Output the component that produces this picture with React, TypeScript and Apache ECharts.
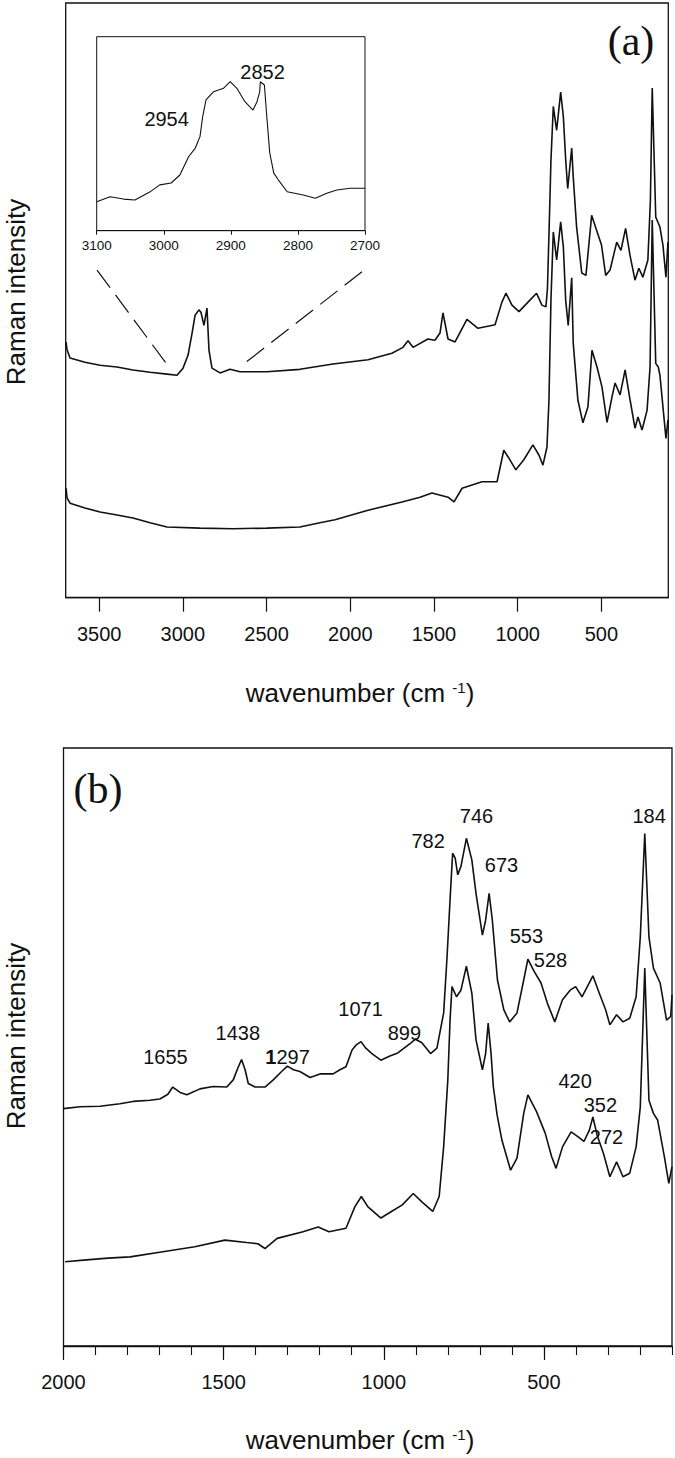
import React, { useEffect, useRef } from "react";
import * as echarts from "echarts";

// ---- Panel (a): full range spectra ----
const waveA1 = [3698,3692,3674,3585,3495,3394,3298,3196,3095,3035,2999,2969,2945,2927,2904,2892,2874,2856,2844,2826,2778,2718,2659,2498,2301,2103,1894,1751,1685,1655,1625,1536,1494,1464,1446,1416,1374,1303,1237,1135,1094,1070,1034,992,938,887,855,831,822,812,801,787,767,743,727,713,701,677,668,648,617,592,558,532,499,474,448,408,383,355,329,299,276,252,222,207,196,175,160,150,132,114,102];
const intA1 = [43.0,41.7,40.3,39.6,39.1,38.8,38.3,37.9,37.6,37.4,38.6,40.8,44.5,47.5,48.4,48.0,45.8,48.7,41.6,38.6,37.8,38.4,38.0,38.0,38.4,39.3,40.0,41.1,42.1,43.2,42.1,43.5,43.3,44.5,47.9,43.5,43.0,46.8,45.3,45.9,49.7,51.2,49.2,48.1,49.7,51.2,49.2,48.9,52.0,62.0,73.6,82.6,78.6,85.0,80.9,73.6,68.8,75.6,70.8,62.4,54.6,54.2,64.3,62.1,59.3,54.2,55.1,59.8,58.4,62.1,57.6,53.4,55.4,53.9,56.8,66.8,85.7,64.0,63.0,62.3,59.3,53.9,59.8];

const waveA2 = [3698,3692,3674,3585,3495,3394,3298,3196,3095,2898,2700,2498,2301,2181,2091,1894,1691,1583,1512,1416,1380,1332,1213,1123,1083,1053,1011,963,909,873,849,825,813,801,787,767,743,727,713,698,677,668,640,610,580,556,526,496,466,436,418,388,358,328,299,281,257,227,209,196,175,160,150,114,102];
const intA2 = [18.4,16.8,15.9,15.1,14.4,13.9,13.4,12.6,11.9,11.7,11.6,11.7,11.9,12.6,13.1,14.7,16.1,16.9,17.6,16.9,16.1,18.4,19.5,19.5,24.8,23.5,21.5,23.2,25.7,24.0,22.3,25.3,33.2,50.1,61.5,56.8,63.2,59.0,50.0,45.8,53.8,42.8,33.2,29.4,32.1,41.6,38.8,35.4,29.5,33.8,36.1,34.1,38.3,33.2,28.5,30.4,28.2,31.5,38.8,63.5,39.4,38.8,37.4,26.8,29.9];

// ---- Inset: C-H stretching region ----
const waveInset = [3100,3080,3060,3043,3021,3006,2989,2976,2963,2953,2946,2942,2937,2926,2911,2901,2891,2879,2867,2861,2857,2856,2850,2846,2842,2836,2829,2816,2792,2774,2757,2742,2722,2700];
const intInset = [14.9,17.5,16.3,15.8,19.9,23.6,24.6,28.7,38.1,42.6,48.5,58.8,67.4,71.6,73.4,76.8,73.4,66.5,62.2,66.5,71.6,76.8,75.1,57.1,40.1,29.7,26.1,20.1,18.4,16.7,19.3,21.0,21.9,21.9];
const insetLabels = [
  { name: "2954", pos: [2995, 57.1] },
  { name: "2852", pos: [2852, 81.8] },
];
// zoom guide lines (from inset corners down to the main trace)
const zoomLeft = [[3513, 55.1], [3089, 39.0]];
const zoomRight = [[1930, 54.8], [2623, 39.6]];

// ---- Panel (b): 2000-100 cm-1 ----
const waveB1 = [2000,1948,1886,1824,1783,1730,1699,1674,1659,1636,1615,1574,1533,1490,1470,1454,1444,1433,1423,1402,1371,1345,1319,1301,1282,1262,1230,1199,1158,1137,1118,1099,1087,1071,1056,1037,1009,981,956,915,901,881,854,834,813,803,793,785,777,769,759,742,725,712,692,682,671,661,645,625,607,584,563,550,530,509,489,466,442,418,401,381,347,327,307,294,273,253,232,212,199,185,172,158,137,117,104,100];
const intB1 = [39.7,40.0,40.1,40.5,40.9,41.1,41.3,42.1,43.3,42.4,42.0,43.0,43.4,43.3,44.5,46.7,47.9,46.2,43.9,43.3,43.3,44.5,45.9,46.8,46.2,45.9,44.9,45.5,45.5,46.2,46.7,49.5,50.3,50.9,49.8,48.9,47.8,48.5,49.0,50.7,51.3,50.7,48.9,49.8,55.7,64.5,74.6,82.4,81.6,78.8,80.2,84.9,81.3,75.7,68.7,71.2,75.7,71.2,61.2,56.2,54.2,55.7,61.2,64.7,62.6,60.7,57.3,54.2,57.9,59.5,60.1,58.4,61.9,59.0,56.2,53.7,55.4,54.2,54.8,58.4,68.4,85.7,68.4,63.2,60.7,54.5,55.1,58.7];

const waveB2 = [1995,1928,1861,1792,1685,1590,1496,1428,1393,1371,1333,1252,1205,1171,1118,1090,1070,1050,1009,976,942,908,881,847,827,813,800,793,787,773,759,742,725,712,692,682,674,665,658,646,631,604,584,563,550,523,496,476,462,442,415,394,375,358,347,334,314,294,273,253,232,212,199,185,172,158,145,124,110,100];
const intB2 = [14.1,14.4,14.7,14.9,15.8,16.6,17.7,17.3,17.1,16.3,18.0,19.1,19.9,19.1,19.7,23.3,25.0,23.3,21.4,22.5,23.6,25.5,24.1,22.5,25.0,33.3,44.5,54.5,60.1,58.4,59.5,63.5,59.0,51.2,46.2,48.9,54.0,48.9,43.4,38.6,34.4,29.4,31.4,38.9,42.0,39.2,35.6,31.7,29.7,33.3,35.8,35.0,34.2,36.1,38.3,35.3,32.2,28.3,30.8,28.3,28.9,33.3,40.0,63.2,41.1,38.9,37.8,31.7,27.2,30.0];

const peakLabelsB = [
  { name: "746", pos: [709, 88.5] },
  { name: "184", pos: [170, 88.5] },
  { name: "782", pos: [860, 84.3] },
  { name: "673", pos: [631, 80.4] },
  { name: "553", pos: [553, 68.4] },
  { name: "528", pos: [478, 64.4] },
  { name: "1071", pos: [1071, 56.2] },
  { name: "1438", pos: [1454, 52.3] },
  { name: "899", pos: [934, 52.3] },
  { name: "1655", pos: [1680, 48.2] },
  { name: "1297", pos: [1299, 48.2] },
  { name: "420", pos: [401, 44.3] },
  { name: "352", pos: [322, 40.3] },
  { name: "272", pos: [303, 34.8] },
];

const ticksA = [500, 1000, 1500, 2000, 2500, 3000, 3500];
const ticksBMajor = [500, 1000, 1500, 2000];

const zip = (w: number[], v: number[]) => w.map((x, i) => [x, v[i]]);

const FONT = "'Liberation Sans', Arial, Helvetica, sans-serif";
const SERIF = "'Liberation Serif', 'Times New Roman', serif";
const INK = "#111";
const plain = (v: number) => String(v);

export default function App() {
  const ref = useRef<HTMLDivElement>(null);
  useEffect(() => {
    document.body.style.margin = "0";
    const chart = echarts.init(ref.current!, null, { renderer: "svg" });
    const hiddenY = (gridIndex: number) => ({
      gridIndex, type: "value", min: 0, max: 100,
      axisLine: { show: false }, axisTick: { show: false }, axisLabel: { show: false }, splitLine: { show: false },
    });
    const lineS = (name: string, data: number[][], xi: number, yi: number, width: number, extra: any = {}) => ({
      name, type: "line", data, xAxisIndex: xi, yAxisIndex: yi, showSymbol: false, symbol: "none",
      lineStyle: { color: INK, width, opacity: 1, ...extra }, z: 3, silent: true,
    });
    const labelS = (items: { name: string; pos: number[] }[], xi: number, yi: number, size: number) => ({
      type: "scatter", xAxisIndex: xi, yAxisIndex: yi, symbolSize: 1, z: 5, silent: true,
      itemStyle: { color: "rgba(0,0,0,0)", opacity: 1 },
      label: {
        show: true, position: [0, 0], align: "center", verticalAlign: "middle", opacity: 1,
        color: INK, fontSize: size, fontFamily: FONT, textBorderWidth: 0,
        formatter: (p: any) => (p.name === "1297" ? "{b|1}297" : p.name),
        rich: { b: { fontWeight: "bold", fontSize: size, fontFamily: FONT, color: INK } },
      },
      data: items.map((d) => ({ name: d.name, value: d.pos })),
    });
    chart.setOption({
      animation: false,
      backgroundColor: "#fff",
      grid: [
        { left: 65.7, top: 3, width: 602.6, height: 594.7, show: true, borderColor: INK, borderWidth: 1.3 },
        { left: 96.7, top: 36.7, width: 268.3, height: 194, show: true, borderColor: INK, borderWidth: 1 },
        { left: 63.5, top: 748, width: 608.5, height: 598, show: true, borderColor: INK, borderWidth: 1.3 },
      ],
      xAxis: [
        {
          gridIndex: 0, type: "value", min: 100, max: 3700, inverse: true, position: "bottom",
          axisLine: { show: true, lineStyle: { color: INK, width: 1.3 } },
          axisTick: { show: true, length: 14, customValues: ticksA, lineStyle: { color: INK, width: 1.2 } },
          axisLabel: { customValues: ticksA, fontSize: 20, margin: 26, color: INK, fontFamily: FONT, formatter: plain },
          splitLine: { show: false },
        },
        {
          gridIndex: 1, type: "value", min: 2700, max: 3100, interval: 100, inverse: true, position: "bottom",
          axisLine: { show: true, lineStyle: { color: INK, width: 1 } },
          axisTick: { show: true, length: 4, lineStyle: { color: INK, width: 1 } },
          axisLabel: { fontSize: 13.5, margin: 8, color: INK, fontFamily: FONT, formatter: plain },
          splitLine: { show: false },
        },
        {
          gridIndex: 2, type: "value", min: 100, max: 2000, inverse: true, position: "bottom",
          axisLine: { show: true, lineStyle: { color: INK, width: 1.3 } },
          axisTick: { show: true, length: 14, customValues: ticksBMajor, lineStyle: { color: INK, width: 1.2 } },
          axisLabel: { customValues: ticksBMajor, fontSize: 20, margin: 26, color: INK, fontFamily: FONT, formatter: plain },
          splitLine: { show: false },
        },
        {
          gridIndex: 2, type: "value", min: 100, max: 2000, interval: 100, inverse: true, position: "bottom",
          axisLine: { show: false },
          axisTick: { show: true, length: 9, lineStyle: { color: INK, width: 1.1 } },
          axisLabel: { show: false },
          splitLine: { show: false },
        },
      ],
      yAxis: [hiddenY(0), hiddenY(1), hiddenY(2)],
      series: [
        lineS("a-top", zip(waveA1, intA1), 0, 0, 1.6),
        lineS("a-bottom", zip(waveA2, intA2), 0, 0, 1.6),
        lineS("zoom-left", zoomLeft, 0, 0, 1.2, { type: [22, 9] }),
        lineS("zoom-right", zoomRight, 0, 0, 1.2, { type: [22, 9] }),
        lineS("inset", zip(waveInset, intInset), 1, 1, 1.1),
        labelS(insetLabels, 1, 1, 20),
        lineS("b-top", zip(waveB1, intB1), 2, 2, 1.6),
        lineS("b-bottom", zip(waveB2, intB2), 2, 2, 1.6),
        labelS(peakLabelsB, 2, 2, 20),
      ],
      graphic: [
        {
          type: "text", x: 631, y: 41,
          style: { text: "(a)", fontFamily: SERIF, fontSize: 42, fill: INK, align: "center", verticalAlign: "middle" },
        },
        {
          type: "text", x: 98, y: 789,
          style: { text: "(b)", fontFamily: SERIF, fontSize: 42, fill: INK, align: "center", verticalAlign: "middle" },
        },
        {
          type: "text", x: 16, y: 292, rotation: Math.PI / 2,
          style: { text: "Raman intensity", fontFamily: FONT, fontSize: 26, fill: INK, align: "center", verticalAlign: "middle" },
        },
        {
          type: "text", x: 16, y: 1036, rotation: Math.PI / 2,
          style: { text: "Raman intensity", fontFamily: FONT, fontSize: 26, fill: INK, align: "center", verticalAlign: "middle" },
        },
        {
          type: "text", x: 360, y: 693,
          style: {
            text: "wavenumber (cm {s|-1})", fontFamily: FONT, fontSize: 26, fill: INK, align: "center", verticalAlign: "middle",
            rich: { s: { fontSize: 15, fontFamily: FONT, fill: INK, verticalAlign: "top" } },
          },
        },
        {
          type: "text", x: 360, y: 1440,
          style: {
            text: "wavenumber (cm {s|-1})", fontFamily: FONT, fontSize: 26, fill: INK, align: "center", verticalAlign: "middle",
            rich: { s: { fontSize: 15, fontFamily: FONT, fill: INK, verticalAlign: "top" } },
          },
        },
      ],
    });
    return () => chart.dispose();
  }, []);
  return <div ref={ref} style={{ width: 675, height: 1458 }} />;
}
